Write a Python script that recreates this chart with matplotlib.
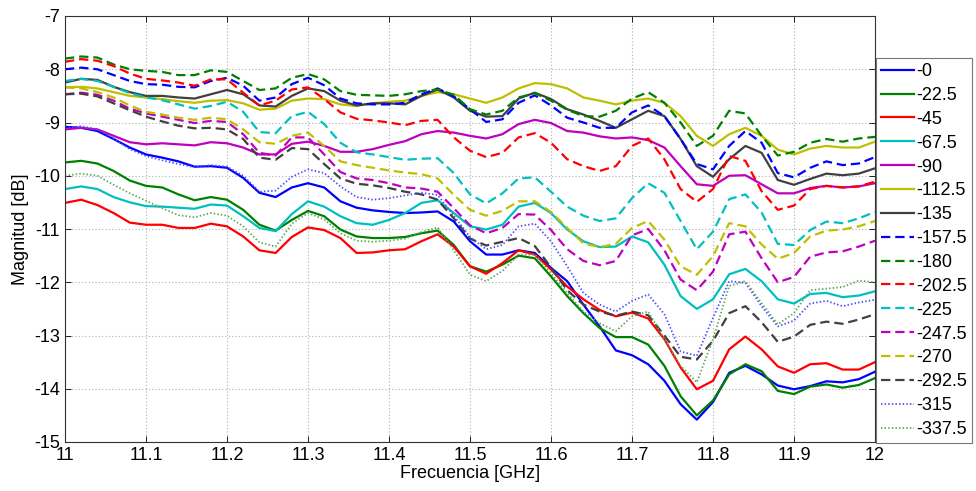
import numpy as np
import matplotlib
matplotlib.use("Agg")
import matplotlib.pyplot as plt

plt.rcParams['font.family'] = ['Liberation Sans', 'DejaVu Sans']
plt.rcParams['axes.unicode_minus'] = False

# Frequency axis (GHz), one sample every 20 MHz
freq = np.round(np.arange(11.0, 12.0001, 0.02), 2)

# Magnitude (dB) for each rotation angle
m_0 = [-9.08, -9.10, -9.16, -9.31, -9.47, -9.60, -9.66, -9.73, -9.83, -9.82,
       -9.85, -10.04, -10.32, -10.40, -10.22, -10.14, -10.22, -10.48, -10.60, -10.65,
       -10.68, -10.70, -10.69, -10.67, -10.86, -11.23, -11.48, -11.48, -11.40, -11.45,
       -11.73, -11.98, -12.42, -12.83, -13.28, -13.37, -13.54, -13.85, -14.29, -14.58,
       -14.25, -13.70, -13.57, -13.73, -13.94, -14.01, -13.95, -13.86, -13.88, -13.82, -13.68]
m_22_5 = [-9.75, -9.72, -9.77, -9.91, -10.09, -10.19, -10.22, -10.35, -10.46, -10.40,
          -10.45, -10.64, -10.92, -11.03, -10.83, -10.66, -10.76, -11.01, -11.14, -11.17,
          -11.17, -11.15, -11.08, -11.03, -11.30, -11.70, -11.80, -11.67, -11.50, -11.55,
          -11.89, -12.26, -12.58, -12.86, -13.03, -13.03, -13.17, -13.57, -14.14, -14.50,
          -14.22, -13.73, -13.54, -13.67, -14.04, -14.10, -13.96, -13.92, -13.98, -13.93, -13.80]
m_45 = [-10.51, -10.45, -10.55, -10.70, -10.88, -10.92, -10.92, -10.98, -10.98, -10.90,
        -10.95, -11.14, -11.40, -11.45, -11.15, -10.97, -11.02, -11.17, -11.45, -11.44,
        -11.40, -11.38, -11.23, -11.10, -11.33, -11.70, -11.84, -11.64, -11.40, -11.48,
        -11.76, -12.08, -12.32, -12.52, -12.64, -12.57, -12.68, -13.07, -13.60, -14.01,
        -13.85, -13.26, -13.02, -13.26, -13.58, -13.70, -13.54, -13.52, -13.64, -13.64, -13.50]
m_67_5 = [-10.25, -10.20, -10.25, -10.40, -10.50, -10.57, -10.58, -10.60, -10.62, -10.54,
          -10.56, -10.76, -10.98, -11.04, -10.72, -10.48, -10.58, -10.76, -10.89, -10.92,
          -10.83, -10.70, -10.51, -10.46, -10.70, -10.95, -11.01, -10.92, -10.58, -10.51,
          -10.70, -11.01, -11.23, -11.34, -11.33, -11.14, -11.25, -11.67, -12.26, -12.50,
          -12.32, -11.85, -11.75, -11.98, -12.32, -12.40, -12.22, -12.20, -12.28, -12.25, -12.17]
m_90 = [-9.13, -9.10, -9.13, -9.25, -9.37, -9.41, -9.39, -9.41, -9.43, -9.37,
        -9.39, -9.47, -9.60, -9.60, -9.40, -9.36, -9.44, -9.55, -9.55, -9.50,
        -9.42, -9.35, -9.22, -9.16, -9.19, -9.25, -9.30, -9.22, -9.03, -8.95,
        -9.01, -9.16, -9.19, -9.26, -9.30, -9.28, -9.33, -9.47, -9.82, -10.16,
        -10.19, -10.00, -9.99, -10.16, -10.33, -10.33, -10.23, -10.19, -10.22, -10.20, -10.14]
m_112_5 = [-8.34, -8.33, -8.36, -8.43, -8.50, -8.53, -8.56, -8.60, -8.63, -8.59,
           -8.58, -8.64, -8.76, -8.74, -8.59, -8.55, -8.56, -8.66, -8.69, -8.64,
           -8.61, -8.59, -8.50, -8.43, -8.47, -8.55, -8.63, -8.53, -8.36, -8.26,
           -8.28, -8.36, -8.53, -8.59, -8.66, -8.59, -8.55, -8.63, -8.88, -9.25,
           -9.44, -9.22, -9.10, -9.25, -9.51, -9.60, -9.49, -9.44, -9.47, -9.47, -9.36]
m_135 = [-8.25, -8.18, -8.20, -8.33, -8.43, -8.50, -8.50, -8.53, -8.55, -8.47,
         -8.39, -8.47, -8.68, -8.70, -8.50, -8.36, -8.41, -8.59, -8.68, -8.64,
         -8.64, -8.66, -8.50, -8.38, -8.53, -8.78, -8.89, -8.88, -8.55, -8.44,
         -8.56, -8.75, -8.85, -8.97, -9.10, -8.94, -8.78, -8.88, -9.31, -9.82,
         -10.02, -9.69, -9.44, -9.57, -10.08, -10.17, -10.06, -9.96, -9.99, -9.96, -9.86]
m_157_5 = [-8.00, -7.97, -8.00, -8.11, -8.22, -8.28, -8.29, -8.33, -8.34, -8.22,
           -8.16, -8.31, -8.59, -8.53, -8.28, -8.16, -8.30, -8.55, -8.64, -8.66,
           -8.66, -8.63, -8.47, -8.36, -8.51, -8.75, -8.99, -8.94, -8.63, -8.49,
           -8.68, -8.91, -9.00, -9.10, -9.10, -8.81, -8.68, -8.88, -9.31, -9.78,
           -9.88, -9.44, -9.16, -9.38, -9.95, -10.03, -9.85, -9.73, -9.80, -9.77, -9.65]
m_180 = [-7.80, -7.76, -7.78, -7.91, -8.00, -8.03, -8.05, -8.11, -8.11, -8.02,
         -8.05, -8.22, -8.39, -8.36, -8.16, -8.09, -8.19, -8.41, -8.48, -8.49,
         -8.50, -8.47, -8.41, -8.38, -8.48, -8.75, -8.85, -8.78, -8.53, -8.45,
         -8.59, -8.76, -8.88, -8.89, -8.78, -8.55, -8.43, -8.63, -9.00, -9.44,
         -9.25, -8.78, -8.83, -9.25, -9.62, -9.55, -9.38, -9.31, -9.36, -9.30, -9.27]
m_202_5 = [-7.86, -7.81, -7.84, -7.94, -8.08, -8.18, -8.21, -8.25, -8.31, -8.19,
           -8.19, -8.44, -8.68, -8.59, -8.38, -8.34, -8.56, -8.81, -8.93, -8.96,
           -9.00, -9.05, -8.97, -8.95, -9.28, -9.53, -9.65, -9.57, -9.28, -9.20,
           -9.38, -9.69, -9.82, -9.91, -9.82, -9.44, -9.30, -9.69, -10.25, -10.49,
           -10.25, -9.63, -9.72, -10.29, -10.64, -10.56, -10.25, -10.19, -10.22, -10.20, -10.11]
m_225 = [-8.22, -8.18, -8.22, -8.33, -8.45, -8.53, -8.58, -8.66, -8.74, -8.69,
         -8.61, -8.80, -9.18, -9.20, -8.88, -8.80, -9.03, -9.38, -9.56, -9.60,
         -9.65, -9.70, -9.68, -9.67, -9.95, -10.35, -10.52, -10.33, -10.05, -10.03,
         -10.30, -10.58, -10.75, -10.85, -10.80, -10.42, -10.14, -10.32, -10.85, -11.38,
         -11.05, -10.44, -10.35, -10.69, -11.28, -11.30, -11.02, -10.86, -10.89, -10.80, -10.68]
m_247_5 = [-8.47, -8.44, -8.48, -8.59, -8.74, -8.83, -8.89, -8.95, -9.01, -8.97,
           -8.99, -9.22, -9.57, -9.62, -9.28, -9.28, -9.60, -9.93, -10.05, -10.08,
           -10.14, -10.22, -10.24, -10.30, -10.61, -10.93, -11.08, -10.98, -10.72, -10.73,
           -11.02, -11.38, -11.60, -11.68, -11.60, -11.12, -11.00, -11.40, -11.95, -12.15,
           -11.80, -11.10, -11.05, -11.55, -12.00, -11.90, -11.52, -11.44, -11.42, -11.33, -11.22]
m_270 = [-8.34, -8.36, -8.43, -8.53, -8.68, -8.80, -8.85, -8.91, -8.95, -8.91,
         -8.94, -9.13, -9.37, -9.40, -9.25, -9.19, -9.44, -9.73, -9.80, -9.85,
         -9.90, -9.94, -9.97, -10.05, -10.36, -10.64, -10.75, -10.66, -10.48, -10.48,
         -10.68, -10.98, -11.27, -11.34, -11.28, -10.98, -10.85, -11.20, -11.70, -11.86,
         -11.51, -10.89, -10.95, -11.29, -11.56, -11.45, -11.14, -11.03, -11.01, -10.95, -10.85]
m_292_5 = [-8.47, -8.46, -8.51, -8.64, -8.77, -8.89, -8.98, -9.06, -9.11, -9.10,
           -9.13, -9.31, -9.66, -9.70, -9.48, -9.50, -9.78, -10.05, -10.15, -10.18,
           -10.23, -10.30, -10.35, -10.45, -10.80, -11.18, -11.31, -11.24, -11.17, -11.32,
           -11.72, -12.15, -12.42, -12.55, -12.63, -12.55, -12.62, -13.00, -13.40, -13.45,
           -13.10, -12.58, -12.45, -12.75, -13.12, -13.02, -12.80, -12.74, -12.78, -12.70, -12.60]
m_315 = [-9.10, -9.07, -9.13, -9.30, -9.50, -9.63, -9.71, -9.78, -9.84, -9.80,
         -9.83, -10.00, -10.30, -10.28, -10.02, -9.88, -9.95, -10.20, -10.40, -10.45,
         -10.42, -10.37, -10.32, -10.36, -10.75, -11.15, -11.38, -11.30, -10.95, -10.90,
         -11.23, -11.70, -12.20, -12.42, -12.55, -12.35, -12.23, -12.60, -13.30, -13.38,
         -12.67, -11.98, -12.01, -12.45, -12.83, -12.72, -12.40, -12.35, -12.45, -12.38, -12.33]
m_337_5 = [-10.00, -9.96, -10.00, -10.17, -10.33, -10.47, -10.61, -10.74, -10.78, -10.70,
           -10.75, -10.95, -11.25, -11.33, -10.90, -10.70, -10.82, -11.08, -11.22, -11.24,
           -11.22, -11.18, -11.06, -10.97, -11.40, -11.86, -11.98, -11.79, -11.48, -11.48,
           -11.83, -12.20, -12.55, -12.77, -12.92, -12.64, -12.55, -13.07, -13.57, -13.88,
           -13.07, -12.07, -11.98, -12.39, -12.79, -12.58, -12.15, -12.12, -12.09, -11.97, -12.00]

labels = ['-0', '-22.5', '-45', '-67.5', '-90', '-112.5', '-135', '-157.5',
          '-180', '-202.5', '-225', '-247.5', '-270', '-292.5', '-315', '-337.5']
series = [m_0, m_22_5, m_45, m_67_5, m_90, m_112_5, m_135, m_157_5,
          m_180, m_202_5, m_225, m_247_5, m_270, m_292_5, m_315, m_337_5]

x_ticks = [11.0, 11.1, 11.2, 11.3, 11.4, 11.5, 11.6, 11.7, 11.8, 11.9, 12.0]
x_ticklabels = ['11', '11.1', '11.2', '11.3', '11.4', '11.5', '11.6', '11.7', '11.8', '11.9', '12']
y_ticks = [-15, -14, -13, -12, -11, -10, -9, -8, -7]
y_ticklabels = ['-15', '-14', '-13', '-12', '-11', '-10', '-9', '-8', '-7']

# MATLAB-style colour cycle
palette = [(0, 0, 1), (0, 0.5, 0), (1, 0, 0), (0, 0.75, 0.75),
           (0.75, 0, 0.75), (0.75, 0.75, 0), (0.25, 0.25, 0.25)]

styles = []
for i in range(16):
    if i < 7:
        styles.append(dict(color=palette[i], linestyle='-', linewidth=1.6))
    elif i < 14:
        styles.append(dict(color=palette[i - 7], linestyle=(0, (4.2, 2.2)), linewidth=1.6))
    elif i == 14:
        styles.append(dict(color=(0.3, 0.3, 1.0), linestyle=(0, (0.8, 1.2)), linewidth=1.3))
    else:
        styles.append(dict(color=(0.35, 0.65, 0.35), linestyle=(0, (0.8, 1.2)), linewidth=1.3))

fig = plt.figure(figsize=(9.76, 4.91), dpi=100)
ax = fig.add_axes([65 / 976, 1 - 442 / 491, (875 - 65) / 976, (442 - 16) / 491])

for vals, lab, st in zip(series, labels, styles):
    ax.plot(freq, vals, label=lab, **st)

ax.set_xlim(11, 12)
ax.set_ylim(-15, -7)
ax.set_xticks(x_ticks)
ax.set_xticklabels(x_ticklabels)
ax.set_yticks(y_ticks)
ax.set_yticklabels(y_ticklabels)
ax.tick_params(labelsize=13, direction='in', length=4, width=0.6, top=True, right=True)
ax.grid(True, linestyle=(0, (1, 2)), color='#b0b0b0', linewidth=0.8)
for sp in ax.spines.values():
    sp.set_linewidth(0.8)
    sp.set_color('#333333')

ax.set_xlabel('Frecuencia [GHz]', fontsize=13, labelpad=1)
ax.set_ylabel('Magnitud [dB]', fontsize=13, labelpad=4)

leg = fig.legend(loc='upper left', bbox_to_anchor=(876 / 976, 1 - 58 / 491),
                 fontsize=13, handlelength=1.8, handletextpad=0.15,
                 labelspacing=0.38, borderpad=0.28, borderaxespad=0,
                 frameon=True, fancybox=False, edgecolor='#555555')
leg.get_frame().set_linewidth(0.8)

fig.savefig('out.png', dpi=100)
